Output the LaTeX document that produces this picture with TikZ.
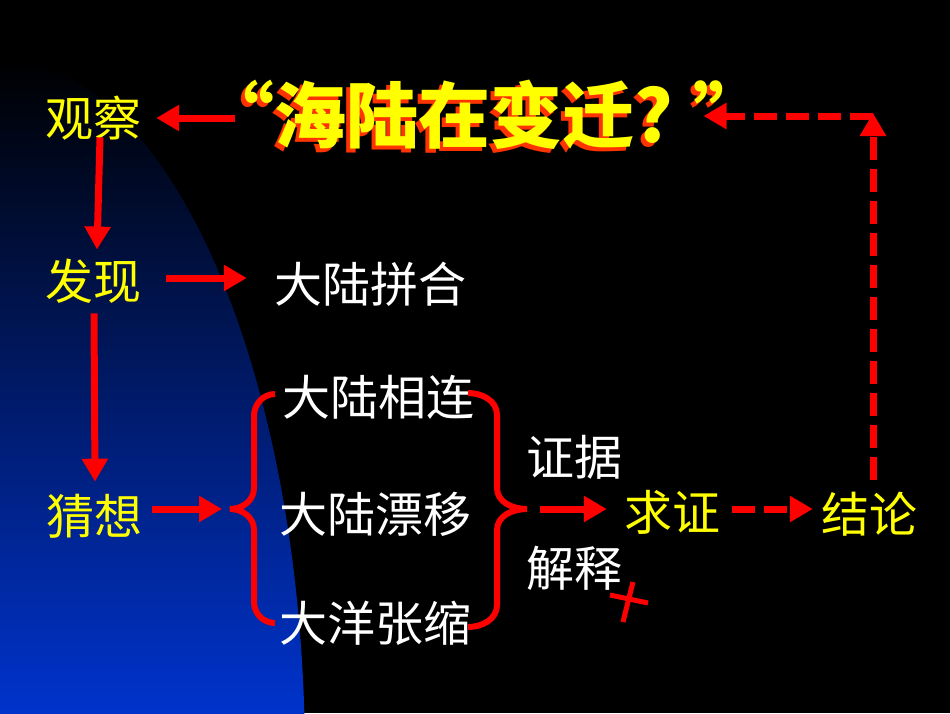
\documentclass[tikz,border=0pt]{standalone}
\usepackage{fontspec}
\newfontfamily\cjk{Noto Sans CJK SC}
\usetikzlibrary{arrows.meta}

\definecolor{cyellow}{RGB}{255,255,0}
\definecolor{cred}{RGB}{255,0,0}
\definecolor{cshadow}{RGB}{255,51,0}
\definecolor{oceanblue}{RGB}{0,51,204}

\begin{document}
\begin{tikzpicture}[
      x=1pt, y=-1pt,
      word/.style={inner sep=0pt, font=\cjk\fontsize{48}{52}\selectfont},
      yword/.style={word, text=cyellow},
      wword/.style={word, text=white},
      headline/.style={inner sep=0pt, font=\cjk\bfseries\fontsize{72}{76}\selectfont},
      redarrow/.style={draw=cred, line width=7pt, -{Triangle[length=23pt,width=25pt]}},
      dasharrow/.style={redarrow, dash pattern=on 23pt off 9pt},
      brace/.style={draw=cred, line width=6pt}
    ]

    % background and the blue globe edge
    \fill[black] (0,0) rectangle (950,713);
    \begin{scope}
      \clip (0,0) rectangle (950,713);
      \clip (0,760) ellipse [x radius=305pt, y radius=700pt];
      \shade[top color=black, bottom color=oceanblue] (0,60) rectangle (310,713);
    \end{scope}

    % title with its shadow
    \node[headline, text=cshadow] (titleshadow) at (480,119) {“海陆在变迁?\hspace{20pt}”};
    \node[headline, text=cyellow] (title) at (484,115) {“海陆在变迁?\hspace{20pt}”};

    % left column
    \node[yword] (guancha)  at (93,118) {观察};
    \node[yword] (faxian)   at (93,281) {发现};
    \node[yword] (caixiang) at (94,516) {猜想};

    % hypotheses
    \node[wword] (pinhe)     at (370,284) {大陆拼合};
    \node[wword] (xianglian) at (378,397) {大陆相连};
    \node[wword] (piaoyi)    at (375,514) {大陆漂移};
    \node[wword] (zhangsuo)  at (375,623) {大洋张缩};

    % right part
    \node[wword] (zhengju)  at (574,457) {证据};
    \node[wword] (jieshi)   at (574,568) {解释};
    \node[yword] (qiuzheng) at (672,512) {求证};
    \node[yword] (jielun)   at (869,514) {结论};

    \coordinate (lbrace) at (230,509);
    \coordinate (rbrace) at (527,509);
    \coordinate (corner) at (873,116);

    % braces
    \draw[brace] (275,394) to[out=180,in=90] (254,416) -- (254,488)
        to[out=270,in=0] (lbrace) to[out=0,in=90] (254,530) -- (254,602)
        to[out=270,in=180] (275,623);
    \draw[brace] (468,393) to[out=0,in=90] (497,415) -- (497,488)
        to[out=270,in=180] (rbrace) to[out=180,in=90] (497,530) -- (497,605)
        to[out=270,in=0] (468,627);

    % solid arrows
    \draw[redarrow] ([xshift=32pt]title.west |- guancha) -- ([xshift=15pt]guancha.east);
    \draw[redarrow] ([xshift=7pt,yshift=3pt]guancha.south) -- ([xshift=4pt,yshift=9pt]faxian.north);
    \draw[redarrow] ([xshift=1pt,yshift=-10pt]faxian.south) -- ([xshift=1pt,yshift=12pt]caixiang.north);
    \draw[redarrow, shorten <=25pt, shorten >=27pt] ([yshift=3pt]faxian.east) -- ([yshift=3pt]faxian.east -| pinhe.west);
    \draw[redarrow, shorten <=10pt, shorten >=8pt] (caixiang.east |- lbrace) -- (lbrace);
    \draw[redarrow, shorten <=13pt, shorten >=17pt] (rbrace) -- (rbrace -| qiuzheng.west);

    % dashed arrows
    \draw[dasharrow, shorten <=12pt, shorten >=8pt] (qiuzheng.east |- rbrace) -- (jielun.west |- rbrace);
    \draw[dasharrow, shorten <=12pt] (jielun.north -| corner) -- ([yshift=3pt]corner);
    \draw[dasharrow] (corner) -- ([xshift=-62pt]title.east |- corner);

    % cross mark
    \draw[cred, line width=5pt] (610,595) -- (648,603) (633,582) -- (623,622);
\end{tikzpicture}
\end{document}
